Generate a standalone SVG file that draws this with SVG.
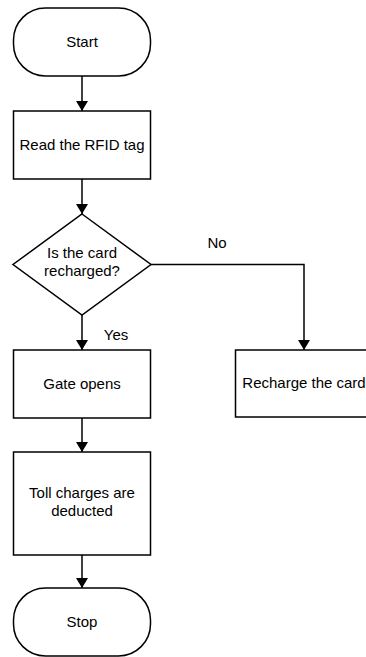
<svg xmlns="http://www.w3.org/2000/svg" width="366" height="657" viewBox="0 0 366 657">
<defs>
<style>
.s{fill:#fff;stroke:#000;stroke-width:1.5}
.t{font-family:"Liberation Sans",Arial,sans-serif;font-size:15px;fill:#000;text-anchor:middle}
.c{fill:none;stroke:#000;stroke-width:1.5}
</style>
<marker id="a" markerWidth="10" markerHeight="12" refX="10" refY="6" orient="auto" markerUnits="userSpaceOnUse">
<path d="M0,0 L10,6 L0,12 Z" fill="#000"/>
</marker>
</defs>
<rect width="366" height="657" fill="#fff"/>
<g id="connectors">
<path class="c" d="M82,76 V111" marker-end="url(#a)"/>
<path class="c" d="M82,179 V214" marker-end="url(#a)"/>
<path class="c" d="M82,315 V350" marker-end="url(#a)"/>
<path class="c" d="M151,264.5 H304 V350" marker-end="url(#a)"/>
<path class="c" d="M82,418 V452" marker-end="url(#a)"/>
<path class="c" d="M82,555 V588" marker-end="url(#a)"/>
<text class="t" x="217" y="248">No</text>
<text class="t" x="116" y="340">Yes</text>
</g>
<g id="start">
<rect class="s" x="13.5" y="8" width="137" height="68" rx="32" ry="32"/>
<text class="t" x="82" y="47">Start</text>
</g>
<g id="read">
<rect class="s" x="13.5" y="111" width="137" height="68"/>
<text class="t" x="82" y="150">Read the RFID tag</text>
</g>
<g id="decision">
<path class="s" d="M82,214 L151,264.5 L82,315 L13,264.5 Z"/>
<text class="t" x="82" y="258">Is the card</text>
<text class="t" x="82" y="276">recharged?</text>
</g>
<g id="gate">
<rect class="s" x="13.5" y="350" width="137" height="68"/>
<text class="t" x="82" y="389">Gate opens</text>
</g>
<g id="recharge">
<rect class="s" x="235.5" y="350" width="137" height="67"/>
<text class="t" x="304" y="388">Recharge the card</text>
</g>
<g id="toll">
<rect class="s" x="13.5" y="452" width="137" height="103"/>
<text class="t" x="82" y="498">Toll charges are</text>
<text class="t" x="82" y="516">deducted</text>
</g>
<g id="stop">
<rect class="s" x="13.5" y="588" width="137" height="68" rx="32" ry="32"/>
<text class="t" x="82" y="627">Stop</text>
</g>
</svg>
